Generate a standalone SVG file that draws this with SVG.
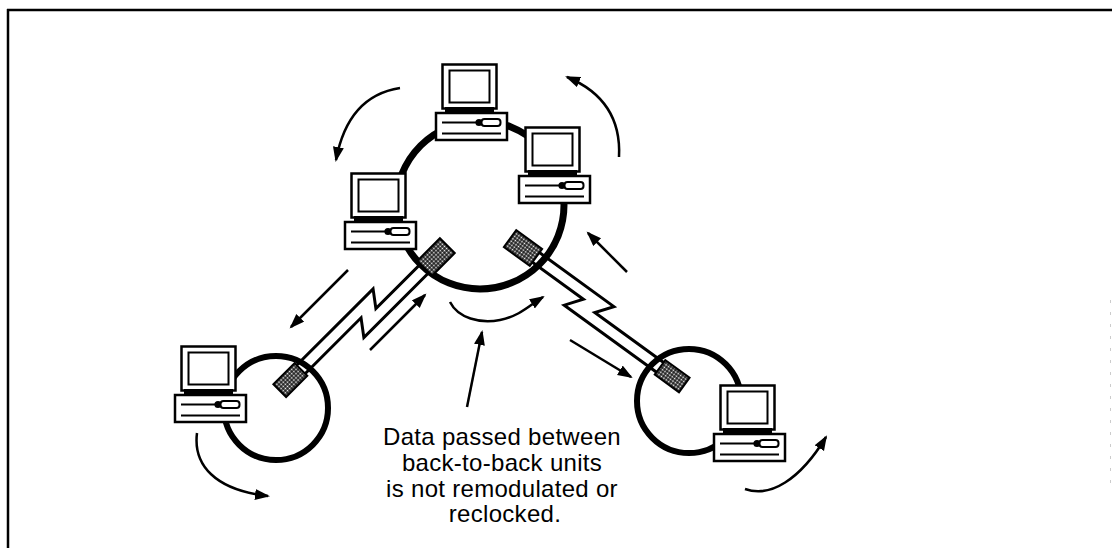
<svg xmlns="http://www.w3.org/2000/svg" xmlns:xlink="http://www.w3.org/1999/xlink" width="1112" height="548" viewBox="0 0 1112 548">
  <style>
    .frame { fill: none; stroke: #000; stroke-width: 2.5; }
    .ring { fill: none; stroke: #000; }
    .wire { fill: none; stroke: #000; stroke-width: 3; stroke-linejoin: miter; stroke-miterlimit: 10; }
    .pad { fill: url(#mesh); stroke: #000; stroke-width: 2; }
    .flow { fill: none; stroke: #000; stroke-width: 2.5; marker-end: url(#head); }
    .box { fill: #fff; stroke: #000; stroke-width: 2.5; }
    .thin { fill: #fff; stroke: #000; stroke-width: 2; }
    .rule { stroke: #000; stroke-width: 2; }
    .note { font-family: "Liberation Sans", Arial, sans-serif; font-size: 24px; fill: #000; text-anchor: middle; letter-spacing: 0.3px; }
  </style>
  <defs>
    <!-- fine mesh used on the coupler pads -->
    <pattern id="mesh" width="3" height="3" patternUnits="userSpaceOnUse">
      <rect width="3" height="3" fill="#000"/>
      <rect x="0.6" y="0.6" width="1.8" height="1.8" fill="#fff"/>
    </pattern>
    <marker id="head" markerUnits="userSpaceOnUse" markerWidth="16" markerHeight="12" refX="13" refY="5.5" orient="auto">
      <path d="M0,0 L15,5.5 L0,11 z" fill="#000"/>
    </marker>
    <!-- desktop computer: origin at the top-left of the system unit -->
    <g id="pc">
      <rect class="box" x="6.5" y="-48.5" width="54" height="44"/>
      <rect class="thin" x="13.5" y="-42.5" width="40" height="32"/>
      <rect x="9" y="-6" width="49" height="6" fill="#000"/>
      <rect class="box" x="0" y="0" width="71" height="27"/>
      <line class="rule" x1="6" y1="9.5" x2="40" y2="9.5"/>
      <circle cx="43" cy="9.5" r="3.6" fill="#000"/>
      <rect class="thin" x="45.5" y="6" width="19" height="7" rx="3"/>
      <line class="rule" x1="6" y1="20.5" x2="65" y2="20.5"/>
    </g>
  </defs>

  <rect width="1112" height="548" fill="#fff"/>

  <!-- page frame -->
  <g id="frame">
    <path class="frame" d="M7,10 H1112 M8,9 V548"/>
    <line x1="1110.5" y1="300" x2="1110.5" y2="492" stroke="#ccc" stroke-width="1" stroke-dasharray="3 9"/>
  </g>

  <!-- token rings -->
  <g id="ring-main"><circle class="ring" cx="480" cy="205" r="84" stroke-width="7"/></g>
  <g id="ring-left"><circle class="ring" cx="276" cy="408" r="52" stroke-width="6"/></g>
  <g id="ring-right"><circle class="ring" cx="689" cy="401" r="52" stroke-width="6"/></g>

  <!-- back-to-back links with lightning break -->
  <g id="link-left" transform="translate(436,257) rotate(135)">
    <path class="wire" d="M0,6 L79,6 L67,22 L190,22"/>
    <path class="wire" d="M0,-6 L108,-6 L96,10 L190,10"/>
    <rect class="pad" x="-16" y="-10.5" width="32" height="21"/>
    <rect class="pad" x="175" y="7" width="30" height="18"/>
  </g>
  <g id="link-right" transform="translate(523,248) rotate(36)">
    <path class="wire" d="M0,6 L79,6 L67,22 L196,22"/>
    <path class="wire" d="M0,-6 L108,-6 L96,10 L196,10"/>
    <rect class="pad" x="-16" y="-10.5" width="32" height="21"/>
    <rect class="pad" x="181" y="7" width="30" height="18"/>
  </g>

  <!-- data flow arrows -->
  <g id="connectors">
    <path class="flow" d="M400,88 Q348,96 336,160"/>
    <path class="flow" d="M619,157 Q622,100 567,77"/>
    <path class="flow" d="M627,272 L588,233"/>
    <path class="flow" d="M450,302 C458,318 480,324 500,320 S530,305 543,297"/>
    <path class="flow" d="M467,407 L482,332"/>
    <path class="flow" d="M348,270 L291,327"/>
    <path class="flow" d="M370,350 L425,295"/>
    <path class="flow" d="M570,340 L631,377"/>
    <path class="flow" d="M197,433 C193,465 215,490 268,496"/>
    <path class="flow" d="M745,489 C770,498 800,480 826,437"/>
  </g>

  <!-- stations -->
  <g id="pc-top"><use xlink:href="#pc" href="#pc" x="436" y="113"/></g>
  <g id="pc-right"><use xlink:href="#pc" href="#pc" x="519" y="176"/></g>
  <g id="pc-left"><use xlink:href="#pc" href="#pc" x="345" y="222"/></g>
  <g id="pc-far-left"><use xlink:href="#pc" href="#pc" x="175" y="395"/></g>
  <g id="pc-far-right"><use xlink:href="#pc" href="#pc" x="714" y="434"/></g>

  <g id="note">
    <text class="note" x="502" y="445">Data passed between</text>
    <text class="note" x="502" y="471">back-to-back units</text>
    <text class="note" x="502" y="497">is not remodulated or</text>
    <text class="note" x="505" y="522">reclocked.</text>
  </g>
</svg>
